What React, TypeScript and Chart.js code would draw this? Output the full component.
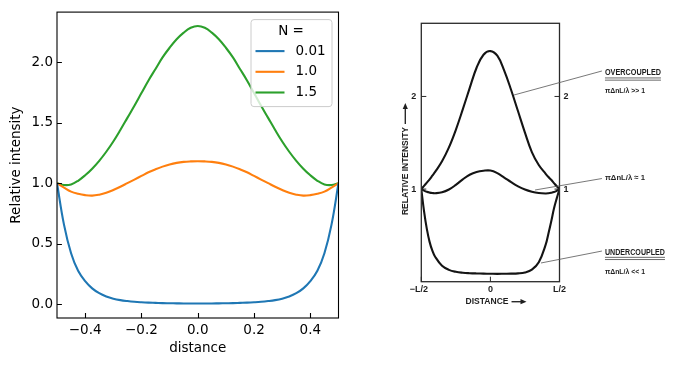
import React, { useEffect, useRef } from "react";
import { Chart, registerables } from "chart.js";
Chart.register(...registerables);

// ---------- Left chart data (matplotlib-style plot) ----------
const DIST = [-0.5, -0.475, -0.45, -0.425, -0.4, -0.375, -0.35, -0.325, -0.3, -0.275, -0.25, -0.225, -0.2, -0.175, -0.15,
  -0.125, -0.1, -0.075, -0.05, -0.025, 0, 0.025, 0.05, 0.075, 0.1, 0.125, 0.15, 0.175, 0.2, 0.225, 0.25, 0.275, 0.3,
  0.325, 0.35, 0.375, 0.4, 0.425, 0.45, 0.475, 0.5];
const N_LABELS = ["0.01", "1.0", "1.5"];
const N001 = [1.0, 0.655, 0.42, 0.275, 0.19, 0.13, 0.09, 0.063, 0.045, 0.033, 0.025, 0.019, 0.015, 0.012, 0.01, 0.008,
  0.007, 0.006, 0.005, 0.005, 0.005, 0.005, 0.005, 0.006, 0.007, 0.008, 0.01, 0.012, 0.015, 0.019, 0.025, 0.033, 0.045,
  0.063, 0.09, 0.13, 0.19, 0.275, 0.42, 0.655, 1.0];
const N10 = [1.0, 0.963, 0.93, 0.912, 0.901, 0.897, 0.905, 0.92, 0.943, 0.97, 1.0, 1.03, 1.06, 1.09, 1.115, 1.137, 1.155,
  1.168, 1.176, 1.18, 1.182, 1.18, 1.176, 1.168, 1.155, 1.137, 1.115, 1.09, 1.06, 1.03, 1.0, 0.97, 0.943, 0.92, 0.905,
  0.897, 0.901, 0.912, 0.93, 0.963, 1.0];
const N15 = [1.0, 0.985, 0.99, 1.02, 1.065, 1.12, 1.185, 1.26, 1.345, 1.44, 1.54, 1.64, 1.745, 1.85, 1.945, 2.04, 2.12,
  2.19, 2.245, 2.285, 2.3, 2.285, 2.245, 2.19, 2.12, 2.04, 1.945, 1.85, 1.745, 1.64, 1.54, 1.44, 1.345, 1.26, 1.185, 1.12,
  1.065, 1.02, 0.99, 0.985, 1.0];
const SERIES = [N001, N10, N15];
const COLORS = ["#1f77b4", "#ff7f0e", "#2ca02c"];
const X_TICKS = [-0.4, -0.2, 0.0, 0.2, 0.4];
const Y_TICKS = [0.0, 0.5, 1.0, 1.5, 2.0];
const LEGEND_TITLE = "N =";

// ---------- Right chart data (scanned reference figure) ----------
const SCAN_X = [-0.5, -0.48, -0.46, -0.44, -0.42, -0.4, -0.35, -0.3, -0.25, -0.2, -0.15, -0.1, -0.05, 0,
  0.05, 0.1, 0.15, 0.2, 0.25, 0.3, 0.35, 0.4, 0.42, 0.44, 0.46, 0.48, 0.5];
const OVER = [1.0, 1.035, 1.07, 1.105, 1.145, 1.185, 1.3, 1.45, 1.64, 1.86, 2.09, 2.31, 2.45, 2.49,
  2.44, 2.28, 2.07, 1.84, 1.61, 1.4, 1.26, 1.165, 1.13, 1.1, 1.065, 1.03, 1.0];
const CRIT = [1.0, 0.983, 0.97, 0.962, 0.957, 0.955, 0.965, 0.995, 1.045, 1.105, 1.155, 1.185, 1.198, 1.2,
  1.172, 1.125, 1.075, 1.03, 0.995, 0.972, 0.958, 0.953, 0.955, 0.96, 0.968, 0.982, 1.0];
const UNDER = [1.0, 0.76, 0.57, 0.43, 0.335, 0.27, 0.172, 0.128, 0.107, 0.097, 0.092, 0.089, 0.087, 0.086,
  0.085, 0.086, 0.087, 0.09, 0.1, 0.13, 0.21, 0.4, 0.52, 0.65, 0.79, 0.9, 1.0];
const SCAN_SERIES = [OVER, CRIT, UNDER];
const SCAN_Y_TICKS = [1, 2];
const SCAN_Y_LABELS = ["1", "2"];
const SCAN_X_TICKS = [-0.5, 0, 0.5];
const SCAN_X_LABELS = ["\u2212L/2", "0", "L/2"];
const NOTE_X = 0.829;
const SCAN_NOTES = [
  { from: [0.171, 2.016], to: [0.807, 2.275], title: "OVERCOUPLED", titleY: 2.254, sub: "\u03c0\u0394nL/\u03bb >> 1", subY: 2.063 },
  { from: [0.323, 0.99], to: [0.807, 1.114], title: "", titleY: 0, sub: "\u03c0\u0394nL/\u03bb \u2248 1", subY: 1.117 },
  { from: [0.366, 0.202], to: [0.807, 0.331], title: "UNDERCOUPLED", titleY: 0.317, sub: "\u03c0\u0394nL/\u03bb << 1", subY: 0.108 },
];

const FONT = "DejaVu Sans";
const FS = 13.5;
const SCAN_FONT = "'Liberation Sans'";

const fmt = (v: number) => (v < 0 ? "\u2212" : "") + Math.abs(v).toFixed(1);

const framePlugin = {
  id: "mplFrame",
  afterDraw(chart: any) {
    const { ctx, chartArea: ca } = chart;
    ctx.save();
    ctx.strokeStyle = "#000";
    ctx.lineWidth = 1.1;
    ctx.strokeRect(ca.left, ca.top, ca.right - ca.left, ca.bottom - ca.top);
    const xs = chart.scales.x, ys = chart.scales.y;
    ctx.beginPath();
    xs.ticks.forEach((t: any) => {
      const p = Math.round(xs.getPixelForValue(t.value)) + 0.5;
      ctx.moveTo(p, ca.bottom);
      ctx.lineTo(p, ca.bottom - 4.9);
    });
    ys.ticks.forEach((t: any) => {
      const p = Math.round(ys.getPixelForValue(t.value)) + 0.5;
      ctx.moveTo(ca.left, p);
      ctx.lineTo(ca.left + 4.9, p);
    });
    ctx.stroke();
    ctx.restore();
  },
};

const legendPlugin = {
  id: "mplLegend",
  afterDraw(chart: any) {
    const { ctx, chartArea: ca } = chart;
    const w = 81, h = 87;
    const x0 = ca.right - 7 - w, y0 = ca.top + 7;
    ctx.save();
    ctx.beginPath();
    ctx.roundRect(x0 + 0.5, y0 + 0.5, w, h, 3);
    ctx.fillStyle = "rgba(255,255,255,0.8)";
    ctx.fill();
    ctx.strokeStyle = "#cccccc";
    ctx.lineWidth = 1;
    ctx.stroke();
    ctx.font = `${FS}px '${FONT}'`;
    ctx.fillStyle = "#000";
    ctx.textBaseline = "middle";
    ctx.textAlign = "center";
    ctx.fillText(LEGEND_TITLE, x0 + w / 2, y0 + 12);
    chart.data.datasets.forEach((ds: any, i: number) => {
      const y = y0 + 32 + i * 20.7;
      ctx.beginPath();
      ctx.strokeStyle = ds.borderColor;
      ctx.lineWidth = 2.1;
      ctx.moveTo(x0 + 5, y);
      ctx.lineTo(x0 + 34, y);
      ctx.stroke();
      ctx.textAlign = "left";
      ctx.fillStyle = "#000";
      ctx.fillText(ds.label, x0 + 45, y);
    });
    ctx.restore();
  },
};

function arrow(ctx: CanvasRenderingContext2D, x1: number, y1: number, x2: number, y2: number) {
  ctx.beginPath();
  ctx.moveTo(x1, y1);
  ctx.lineTo(x2 - 4, y2);
  ctx.stroke();
  ctx.beginPath();
  ctx.moveTo(x2, y2);
  ctx.lineTo(x2 - 6, y2 - 2.6);
  ctx.lineTo(x2 - 6, y2 + 2.6);
  ctx.closePath();
  ctx.fill();
}

// draw text squeezed/stretched horizontally to a target width, left-aligned at x
function fitText(ctx: CanvasRenderingContext2D, text: string, x: number, y: number, width: number) {
  const w = ctx.measureText(text).width;
  ctx.save();
  ctx.translate(x, y);
  ctx.scale(width / w, 1);
  ctx.textAlign = "left";
  ctx.fillText(text, 0, 0);
  ctx.restore();
}

const scanPlugin = {
  id: "scanDecor",
  afterDraw(chart: any) {
    const { ctx, chartArea: ca } = chart;
    const xs = chart.scales.x, ys = chart.scales.y;
    const X = (v: number) => xs.getPixelForValue(v);
    const Y = (v: number) => ys.getPixelForValue(v);
    ctx.save();
    ctx.strokeStyle = "#2a2a2a";
    ctx.fillStyle = "#1e1e1e";
    ctx.lineWidth = 1.3;
    ctx.strokeRect(ca.left, ca.top, ca.right - ca.left, ca.bottom - ca.top);
    // ticks
    ctx.lineWidth = 1;
    ctx.beginPath();
    SCAN_Y_TICKS.forEach((v) => {
      const p = Y(v);
      ctx.moveTo(ca.left, p); ctx.lineTo(ca.left + 5, p);
      ctx.moveTo(ca.right, p); ctx.lineTo(ca.right - 5, p);
    });
    SCAN_X_TICKS.forEach((v) => {
      const p = X(v);
      ctx.moveTo(p, ca.bottom); ctx.lineTo(p, ca.bottom - 5);
    });
    ctx.stroke();
    // tick labels
    ctx.font = `bold 9px ${SCAN_FONT}`;
    ctx.textBaseline = "middle";
    SCAN_Y_TICKS.forEach((v, i) => {
      ctx.textAlign = "right";
      ctx.fillText(SCAN_Y_LABELS[i], ca.left - 5, Y(v));
      ctx.textAlign = "left";
      ctx.fillText(SCAN_Y_LABELS[i], ca.right + 4, Y(v) + 0.5);
    });
    ctx.textAlign = "center";
    SCAN_X_TICKS.forEach((v, i) => {
      ctx.fillText(SCAN_X_LABELS[i], X(v) + (i === 0 ? -2.5 : 0), ca.bottom + 8);
    });
    // axis titles with arrows
    ctx.lineWidth = 1.4;
    ctx.font = `bold 8.5px ${SCAN_FONT}`;
    const dx = X(-0.18);
    fitText(ctx, "DISTANCE", dx, ca.bottom + 20, 43);
    arrow(ctx, dx + 46, ca.bottom + 20, dx + 61, ca.bottom + 20);
    ctx.save();
    ctx.translate(ca.left - 16, Y(0.72));
    ctx.rotate(-Math.PI / 2);
    fitText(ctx, "RELATIVE INTENSITY", 0, 0, 88);
    arrow(ctx, 91, 0, 112, 0);
    ctx.restore();
    // annotations
    SCAN_NOTES.forEach((n) => {
      ctx.strokeStyle = "#555";
      ctx.lineWidth = 0.8;
      ctx.beginPath();
      ctx.moveTo(X(n.from[0]), Y(n.from[1]));
      ctx.lineTo(X(n.to[0]), Y(n.to[1]));
      ctx.stroke();
      ctx.fillStyle = "#1e1e1e";
      const lx = X(NOTE_X);
      if (n.title) {
        ctx.font = `bold 8.5px ${SCAN_FONT}`;
        const tw = n.title.length > 11 ? 60 : 56;
        fitText(ctx, n.title, lx, Y(n.titleY), tw);
        ctx.strokeStyle = "#444";
        ctx.lineWidth = 0.8;
        ctx.beginPath();
        const uy = Y(n.titleY) + 5;
        ctx.moveTo(lx, uy); ctx.lineTo(lx + tw, uy);
        ctx.moveTo(lx, uy + 2.2); ctx.lineTo(lx + tw, uy + 2.2);
        ctx.stroke();
      }
      ctx.font = `bold 8px ${SCAN_FONT}`;
      fitText(ctx, n.sub, lx, Y(n.subY), 40);
    });
    ctx.restore();
  },
};

export default function App() {
  const leftRef = useRef<HTMLCanvasElement>(null);
  const rightRef = useRef<HTMLCanvasElement>(null);

  useEffect(() => {
    Chart.defaults.font.family = FONT;
    const left = new Chart(leftRef.current as HTMLCanvasElement, {
      type: "line",
      data: {
        datasets: SERIES.map((s, i) => ({
          label: N_LABELS[i],
          data: DIST.map((x, j) => ({ x, y: s[j] })),
          borderColor: COLORS[i],
          backgroundColor: COLORS[i],
          borderWidth: 2.1,
          pointRadius: 0,
          tension: 0.4,
          fill: false,
        })),
      },
      options: {
        animation: false,
        responsive: false,
        layout: { padding: { left: 0, top: 10, right: 11.5, bottom: 0 } },
        plugins: { legend: { display: false }, tooltip: { enabled: false } },
        scales: {
          x: {
            type: "linear",
            min: -0.5,
            max: 0.5,
            grid: { display: false, drawTicks: false },
            border: { display: false },
            afterBuildTicks: (s: any) => { s.ticks = X_TICKS.map((v) => ({ value: v })); },
            afterFit: (s: any) => { s.height = 48; },
            ticks: { color: "#000", font: { size: FS }, padding: 4, maxRotation: 0, autoSkip: false, callback: (v: any) => fmt(Number(v)) },
            title: { display: true, text: "distance", color: "#000", font: { size: FS }, padding: { top: 0, bottom: 9.6 } },
          },
          y: {
            type: "linear",
            min: -0.115,
            max: 2.415,
            grid: { display: false, drawTicks: false },
            border: { display: false },
            afterBuildTicks: (s: any) => { s.ticks = Y_TICKS.map((v) => ({ value: v })); },
            afterFit: (s: any) => { s.width = 57; },
            ticks: { color: "#000", font: { size: FS }, padding: 4, autoSkip: false, callback: (v: any) => fmt(Number(v)) },
            title: { display: true, text: "Relative intensity", color: "#000", font: { size: FS }, padding: { top: 8, bottom: 0 } },
          },
        },
      },
      plugins: [framePlugin, legendPlugin],
    } as any);

    const right = new Chart(rightRef.current as HTMLCanvasElement, {
      type: "line",
      data: {
        datasets: SCAN_SERIES.map((s, i) => ({
          label: ["overcoupled", "critical", "undercoupled"][i],
          data: SCAN_X.map((x, j) => ({ x, y: s[j] })),
          borderColor: "#141414",
          borderWidth: 2.1,
          pointRadius: 0,
          tension: 0.4,
          fill: false,
        })),
      },
      options: {
        animation: false,
        responsive: false,
        layout: { padding: { left: 71.3, right: 126.5, top: 23.3, bottom: 84.3 } },
        plugins: { legend: { display: false }, tooltip: { enabled: false } },
        scales: {
          x: { type: "linear", min: -0.5, max: 0.5, display: false },
          y: { type: "linear", min: 0, max: 2.79, display: false },
        },
      },
      plugins: [scanPlugin],
    } as any);

    return () => {
      left.destroy();
      right.destroy();
    };
  }, []);

  return (
    <div style={{ position: "absolute", left: 0, top: 0, width: 686, height: 366, background: "#fff" }}>
      <canvas ref={leftRef} width={350} height={366} style={{ position: "absolute", left: 0, top: 0, display: "block" }} />
      <canvas ref={rightRef} width={336} height={366} style={{ position: "absolute", left: 350, top: 0, display: "block" }} />
    </div>
  );
}
